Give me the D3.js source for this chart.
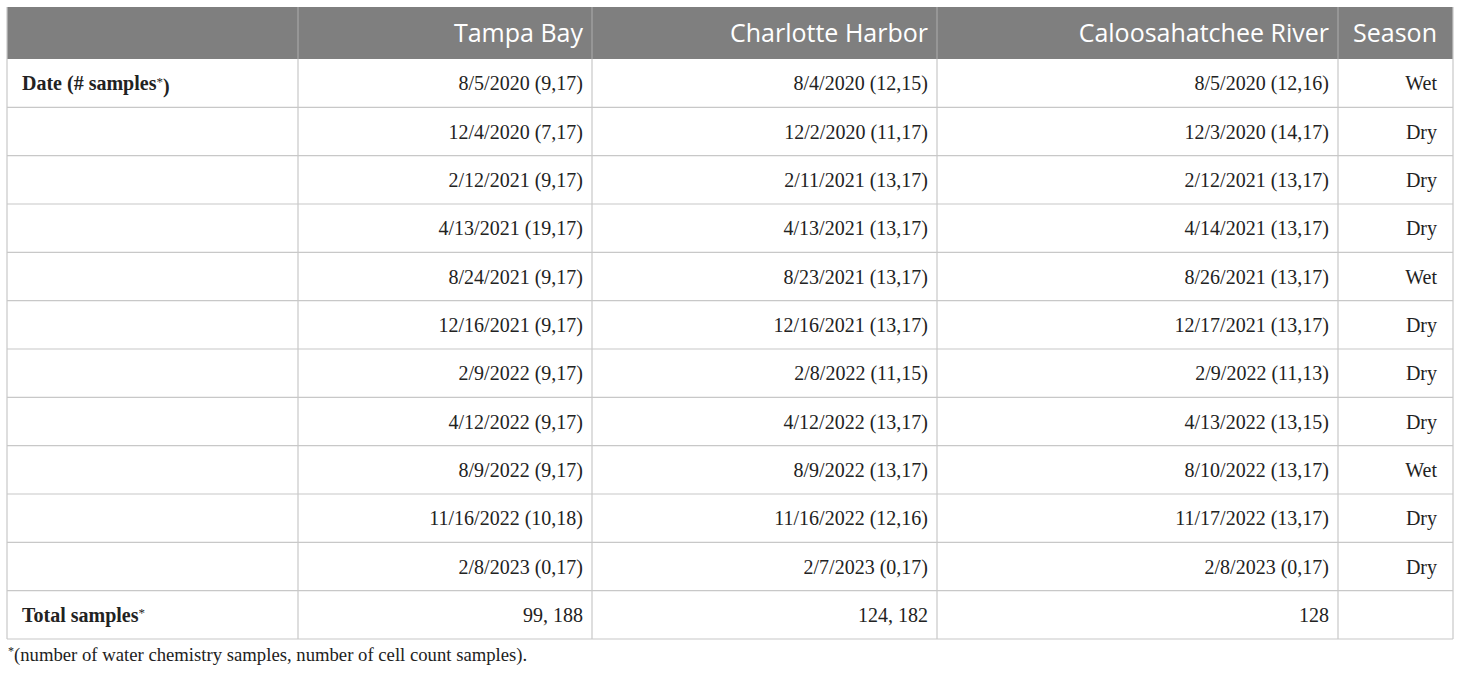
<!DOCTYPE html>
<html>
<head>
<meta charset="utf-8">
<script src="https://cdn.jsdelivr.net/npm/d3@7"></script>
<style>
  body { margin: 0; background: #fff; }
  svg { display: block; }
</style>
</head>
<body>
<div id="chart"></div>
<script>
// sampling table data
var headers = ["", "Tampa Bay", "Charlotte Harbor", "Caloosahatchee River", "Season"];
var rowLabels = ["Date (# samples", "", "", "", "", "", "", "", "", "", "", "Total samples"];
var tampaBay = ["8/5/2020 (9,17)", "12/4/2020 (7,17)", "2/12/2021 (9,17)", "4/13/2021 (19,17)", "8/24/2021 (9,17)",
    "12/16/2021 (9,17)", "2/9/2022 (9,17)", "4/12/2022 (9,17)", "8/9/2022 (9,17)", "11/16/2022 (10,18)", "2/8/2023 (0,17)", "99, 188"];
var charlotteHarbor = ["8/4/2020 (12,15)", "12/2/2020 (11,17)", "2/11/2021 (13,17)", "4/13/2021 (13,17)", "8/23/2021 (13,17)",
    "12/16/2021 (13,17)", "2/8/2022 (11,15)", "4/12/2022 (13,17)", "8/9/2022 (13,17)", "11/16/2022 (12,16)", "2/7/2023 (0,17)", "124, 182"];
var caloosahatchee = ["8/5/2020 (12,16)", "12/3/2020 (14,17)", "2/12/2021 (13,17)", "4/14/2021 (13,17)", "8/26/2021 (13,17)",
    "12/17/2021 (13,17)", "2/9/2022 (11,13)", "4/13/2022 (13,15)", "8/10/2022 (13,17)", "11/17/2022 (13,17)", "2/8/2023 (0,17)", "128"];
var season = ["Wet", "Dry", "Dry", "Dry", "Wet", "Dry", "Dry", "Dry", "Wet", "Dry", "Dry", ""];
var footnote = "(number of water chemistry samples, number of cell count samples).";

var width = 1460, height = 676;
var tblLeft = 7, tblRight = 1453, tblTop = 7, headerBottom = 59, tblBottom = 639;
// column edges and right padding per column
var colEdges = [tblLeft, 298, 592, 937, 1338, tblRight];
var padRight = [9, 9, 9, 9, 16];
var serif = "'Liberation Serif', 'Times New Roman', serif";

var svg = d3.select("#chart").append("svg")
    .attr("width", width)
    .attr("height", height);

var rowIdx = d3.range(rowLabels.length);
var y = d3.scaleBand()
    .domain(rowIdx)
    .range([headerBottom, tblBottom]);

var columns = [rowLabels, tampaBay, charlotteHarbor, caloosahatchee, season];

//header background
svg.append("rect")
    .attr("x", tblLeft)
    .attr("y", tblTop)
    .attr("width", tblRight - tblLeft)
    .attr("height", headerBottom - tblTop)
    .attr("fill", "#7f7f7f");

//header text
svg.selectAll("text.hdr")
    .data(headers)
    .enter().append("text")
    .attr("class", "hdr")
    .attr("x", function(d, i) { return colEdges[i + 1] - padRight[i]; })
    .attr("y", (tblTop + headerBottom) / 2)
    .attr("dy", "0.36em")
    .attr("text-anchor", "end")
    .attr("fill", "#fff")
    .style("font-family", "'Open Sans', sans-serif")
    .style("font-size", "25px")
    .text(function(d) { return d; });

//body cells
columns.forEach(function(col, ci) {
    var t = svg.selectAll("text.c" + ci)
        .data(col)
        .enter().append("text")
        .attr("class", "c" + ci)
        .attr("x", ci === 0 ? tblLeft + 15 : colEdges[ci + 1] - padRight[ci])
        .attr("y", function(d, i) { return y(i) + y.bandwidth() / 2; })
        .attr("dy", "0.35em")
        .attr("text-anchor", ci === 0 ? "start" : "end")
        .attr("fill", "#222")
        .style("font-family", serif)
        .style("font-size", "20px")
        .style("font-weight", ci === 0 ? "bold" : "normal");
    if (ci === 0) {
        // labels carry a small superscript asterisk
        t.each(function(d) {
            if (!d) return;
            var s = d3.select(this);
            s.append("tspan").text(d);
            s.append("tspan")
                .attr("dy", "-0.35em")
                .style("font-size", "13px")
                .style("font-weight", "normal")
                .text("*");
            if (d.indexOf("(") >= 0) {
                s.append("tspan").attr("dy", "0.35em").text(")");
            }
        });
    } else {
        t.text(function(d) { return d; });
    }
});

//grid lines
var grid = svg.append("g")
    .attr("stroke", "#c8c8c8")
    .attr("stroke-width", 1.2);

grid.selectAll("line.h")
    .data(rowIdx.slice(1).concat([null]))
    .enter().append("line")
    .attr("x1", tblLeft).attr("x2", tblRight)
    .attr("y1", function(d) { return d === null ? tblBottom : y(d); })
    .attr("y2", function(d) { return d === null ? tblBottom : y(d); });

grid.selectAll("line.v")
    .data(colEdges)
    .enter().append("line")
    .attr("x1", function(d) { return d; })
    .attr("x2", function(d) { return d; })
    .attr("y1", function(d, i) { return (i === 0 || i === colEdges.length - 1) ? tblTop : headerBottom; })
    .attr("y2", tblBottom);

// header dividers, lighter over the grey band
svg.selectAll("line.hv")
    .data(colEdges.slice(1, -1))
    .enter().append("line")
    .attr("x1", function(d) { return d; })
    .attr("x2", function(d) { return d; })
    .attr("y1", tblTop).attr("y2", headerBottom)
    .attr("stroke", "#a6a6a6")
    .attr("stroke-width", 1.2);

//footnote
var fn = svg.append("text")
    .attr("x", 8)
    .attr("y", 659)
    .attr("fill", "#222")
    .style("font-family", serif)
    .style("font-size", "18.7px");
fn.append("tspan")
    .attr("dy", "-0.35em")
    .style("font-size", "12px")
    .text("*");
fn.append("tspan")
    .attr("dy", "0.35em")
    .text(footnote);
</script>
</body>
</html>
